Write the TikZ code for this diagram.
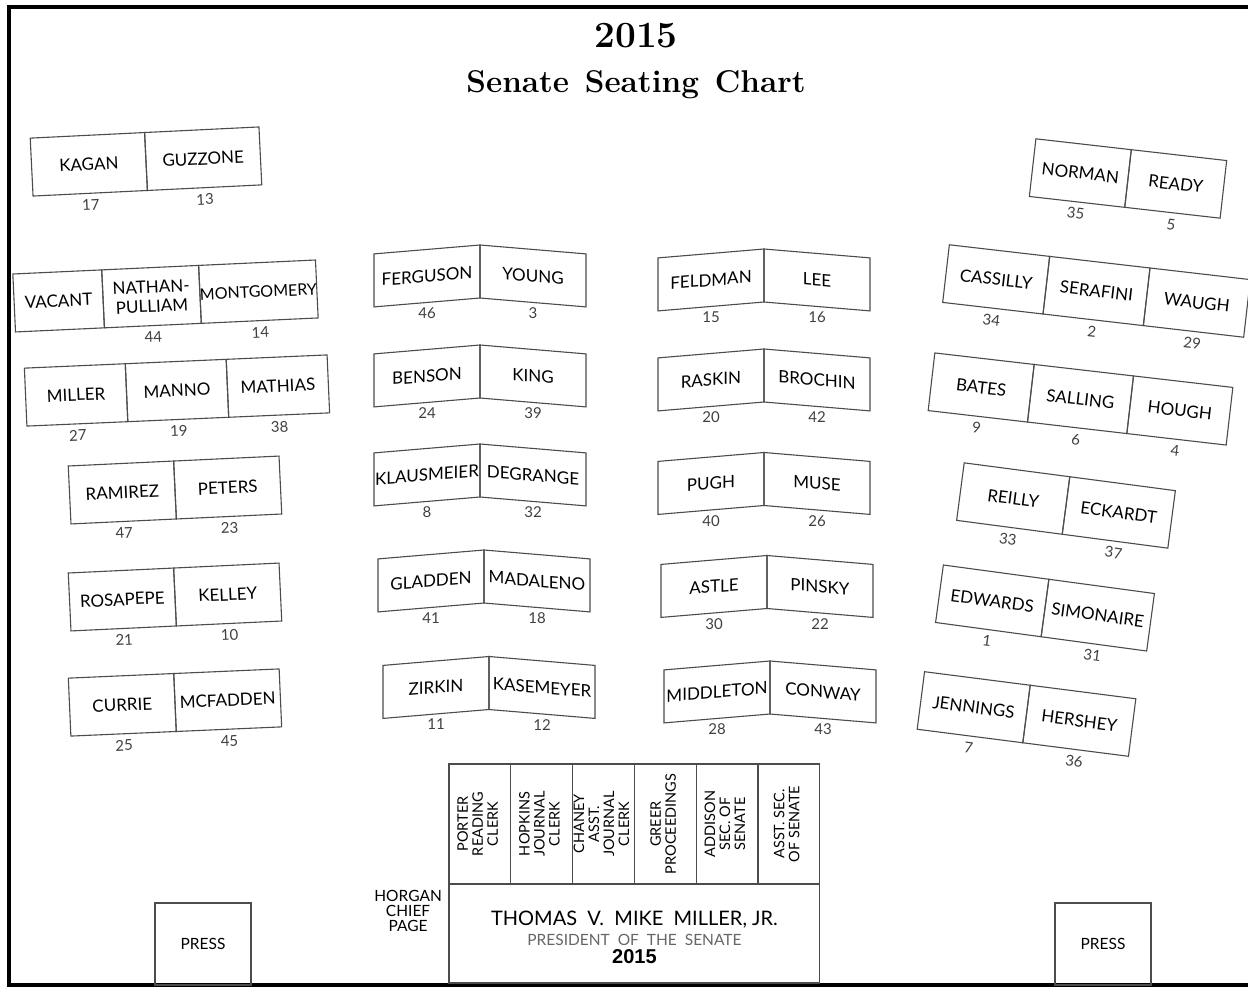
\documentclass[tikz,border=0pt]{standalone}
\usepackage{fontspec}
\usepackage{graphicx}
\setsansfont{Lato}
\newfontfamily\arialfont{Liberation Sans}
\usetikzlibrary{positioning}

% stacked clerk titles, read from bottom to top
\newcommand{\clerklines}[1]{\rotatebox{90}{\begin{tabular}{@{}c@{}}#1\end{tabular}}}

\begin{document}
\begin{tikzpicture}[x=1pt, y=-1pt,
    seat/.style={draw=black!70, line width=1.1pt, outer sep=0pt, inner sep=0pt,
      minimum height=58pt, align=center, text=black,
      font=\sffamily\fontsize{17}{19.5}\selectfont},
    panel/.style={seat, minimum width=106pt, minimum height=53pt},
    seatnum/.style={inner sep=1pt, text=black!75, font=\sffamily\fontsize{15}{15}\selectfont},
    clerk/.style={draw=black!70, line width=1.1pt, outer sep=0pt, inner sep=0pt,
      minimum width=61.8pt, minimum height=120pt, text=black,
      font=\sffamily\fontsize{14.5}{15}\selectfont},
    press/.style={draw=black!70, line width=1.1pt, outer sep=0pt,
      minimum width=96pt, minimum height=82pt, text=black,
      font=\sffamily\fontsize{15.5}{15}\selectfont}]

  \path[fill=white] (0,0) rectangle (1248,988);
  \useasboundingbox (0,0) rectangle (1248,988);
  \draw[line width=3.5pt] (1248,7) -- (9,7) -- (9,985) -- (1248,985);

  \node[font=\bfseries\fontsize{37}{37}\selectfont] (year) at (636,36) {2015};
  \node[font=\bfseries\fontsize{31.5}{31.5}\selectfont] (title) at (636,84.5)
    {Senate\hspace{0.5em}Seating\hspace{0.5em}Chart};

  % left wing
  \begin{scope}[shift={(146,161.5)}, rotate=2.8, transform shape]
    \node[seat, minimum width=114.5pt, anchor=east] (kagan) at (0,0) {KAGAN};
    \node[seat, minimum width=114.5pt, right=0pt of kagan] (guzzone) {GUZZONE};
    \node[seatnum, below=5pt of kagan] (n17) {17};
    \node[seatnum, below=5pt of guzzone] (n13) {13};
  \end{scope}
  \begin{scope}[shift={(165,296)}, rotate=2.65, transform shape]
    \node[seat, minimum width=97pt] (nathan) at (-13.5,0) {NATHAN-\\PULLIAM};
    \node[seat, minimum width=89pt, left=0pt of nathan] (vacant) {VACANT};
    \node[seat, minimum width=116pt, right=0pt of nathan,
      font=\sffamily\fontsize{16}{17}\selectfont] (montgomery) {MONTGOMERY};
    \node[seatnum, below=5pt of nathan] (n44) {44};
    \node[seatnum, below=5pt of montgomery] (n14) {14};
  \end{scope}
  \begin{scope}[shift={(177,390.5)}, rotate=2.5, transform shape]
    \node[seat, minimum width=101pt] (manno) at (0,0) {MANNO};
    \node[seat, minimum width=101pt, left=0pt of manno] (miller) {MILLER};
    \node[seat, minimum width=101pt, right=0pt of manno] (mathias) {MATHIAS};
    \node[seatnum, below=5pt of miller] (n27) {27};
    \node[seatnum, below=5pt of manno] (n19) {19};
    \node[seatnum, below=5pt of mathias] (n38) {38};
  \end{scope}
  \begin{scope}[shift={(175,490)}, rotate=2.7, transform shape]
    \node[seat, minimum width=105.5pt, anchor=east] (ramirez) at (0,0) {RAMIREZ};
    \node[seat, minimum width=105.5pt, right=0pt of ramirez] (peters) {PETERS};
    \node[seatnum, below=5pt of ramirez] (n47) {47};
    \node[seatnum, below=5pt of peters] (n23) {23};
  \end{scope}
  \begin{scope}[shift={(175,597)}, rotate=2.7, transform shape]
    \node[seat, minimum width=105.5pt, anchor=east] (rosapepe) at (0,0) {ROSAPEPE};
    \node[seat, minimum width=105.5pt, right=0pt of rosapepe] (kelley) {KELLEY};
    \node[seatnum, below=5pt of rosapepe] (n21) {21};
    \node[seatnum, below=5pt of kelley] (n10) {10};
  \end{scope}
  \begin{scope}[shift={(175,702.5)}, rotate=2.5, transform shape]
    \node[seat, minimum width=105.5pt, anchor=east] (currie) at (0,0) {CURRIE};
    \node[seat, minimum width=105.5pt, right=0pt of currie] (mcfadden) {MCFADDEN};
    \node[seatnum, below=5pt of currie] (n25) {25};
    \node[seatnum, below=5pt of mcfadden] (n45) {45};
  \end{scope}

  % middle rows, two bent panels per desk
  \coordinate (fy) at (480,271.5);
  \node[panel, yslant=0.084, anchor=east] (ferguson) at (fy) {FERGUSON};
  \node[panel, yslant=-0.084, anchor=west] (young) at (fy) {YOUNG};
  \node[seatnum, below=4pt of ferguson] (n46) {46};
  \node[seatnum, below=4pt of young] (n3) {3};

  \coordinate (bk) at (480,371.5);
  \node[panel, yslant=0.084, anchor=east] (benson) at (bk) {BENSON};
  \node[panel, yslant=-0.084, anchor=west] (king) at (bk) {KING};
  \node[seatnum, below=4pt of benson] (n24) {24};
  \node[seatnum, below=4pt of king] (n39) {39};

  \coordinate (kd) at (480,470.5);
  \node[panel, yslant=0.084, anchor=east] (klausmeier) at (kd) {KLAUSMEIER};
  \node[panel, yslant=-0.084, anchor=west] (degrange) at (kd) {DEGRANGE};
  \node[seatnum, below=4pt of klausmeier] (n8) {8};
  \node[seatnum, below=4pt of degrange] (n32) {32};

  \coordinate (gm) at (484,576.5);
  \node[panel, yslant=0.084, anchor=east] (gladden) at (gm) {GLADDEN};
  \node[panel, yslant=-0.084, anchor=west] (madaleno) at (gm) {MADALENO};
  \node[seatnum, below=4pt of gladden] (n41) {41};
  \node[seatnum, below=4pt of madaleno] (n18) {18};

  \coordinate (zk) at (489,683);
  \node[panel, yslant=0.084, anchor=east] (zirkin) at (zk) {ZIRKIN};
  \node[panel, yslant=-0.084, anchor=west] (kasemeyer) at (zk) {KASEMEYER};
  \node[seatnum, below=4pt of zirkin] (n11) {11};
  \node[seatnum, below=4pt of kasemeyer] (n12) {12};

  \coordinate (fl) at (764,275.5);
  \node[panel, yslant=0.084, anchor=east] (feldman) at (fl) {FELDMAN};
  \node[panel, yslant=-0.084, anchor=west] (lee) at (fl) {LEE};
  \node[seatnum, below=4pt of feldman] (n15) {15};
  \node[seatnum, below=4pt of lee] (n16) {16};

  \coordinate (rb) at (764,375.5);
  \node[panel, yslant=0.084, anchor=east] (raskin) at (rb) {RASKIN};
  \node[panel, yslant=-0.084, anchor=west] (brochin) at (rb) {BROCHIN};
  \node[seatnum, below=4pt of raskin] (n20) {20};
  \node[seatnum, below=4pt of brochin] (n42) {42};

  \coordinate (pm) at (764,479);
  \node[panel, yslant=0.084, anchor=east] (pugh) at (pm) {PUGH};
  \node[panel, yslant=-0.084, anchor=west] (muse) at (pm) {MUSE};
  \node[seatnum, below=4pt of pugh] (n40) {40};
  \node[seatnum, below=4pt of muse] (n26) {26};

  \coordinate (ap) at (767,582);
  \node[panel, yslant=0.084, anchor=east] (astle) at (ap) {ASTLE};
  \node[panel, yslant=-0.084, anchor=west] (pinsky) at (ap) {PINSKY};
  \node[seatnum, below=4pt of astle] (n30) {30};
  \node[seatnum, below=4pt of pinsky] (n22) {22};

  \coordinate (mc) at (770,687.5);
  \node[panel, yslant=0.084, anchor=east] (middleton) at (mc) {MIDDLETON};
  \node[panel, yslant=-0.084, anchor=west] (conway) at (mc) {CONWAY};
  \node[seatnum, below=4pt of middleton] (n28) {28};
  \node[seatnum, below=4pt of conway] (n43) {43};

  % right wing
  \begin{scope}[shift={(1128,178.5)}, rotate=-6.5, transform shape]
    \node[seat, minimum width=96pt, anchor=east] (norman) at (0,0) {NORMAN};
    \node[seat, minimum width=96pt, right=0pt of norman] (ready) {READY};
    \node[seatnum, below=5pt of norman] (n35) {35};
    \node[seatnum, below=5pt of ready] (n5) {5};
  \end{scope}
  \begin{scope}[shift={(1096.5,291)}, rotate=-6.6, transform shape]
    \node[seat, minimum width=101pt] (serafini) at (0,0) {SERAFINI};
    \node[seat, minimum width=101pt, left=0pt of serafini] (cassilly) {CASSILLY};
    \node[seat, minimum width=101pt, right=0pt of serafini] (waugh) {WAUGH};
    \node[seatnum, below=5pt of cassilly] (n34) {34};
    \node[seatnum, below=5pt of serafini] (n2) {2};
    \node[seatnum, below=5pt of waugh] (n29) {29};
  \end{scope}
  \begin{scope}[shift={(1080.5,399)}, rotate=-6.6, transform shape]
    \node[seat, minimum width=100pt] (salling) at (0,0) {SALLING};
    \node[seat, minimum width=100pt, left=0pt of salling] (bates) {BATES};
    \node[seat, minimum width=100pt, right=0pt of salling] (hough) {HOUGH};
    \node[seatnum, below=5pt of bates] (n9) {9};
    \node[seatnum, below=5pt of salling] (n6) {6};
    \node[seatnum, below=5pt of hough] (n4) {4};
  \end{scope}
  \begin{scope}[shift={(1066,505.5)}, rotate=-7.5, transform shape]
    \node[seat, minimum width=106.5pt, anchor=east] (reilly) at (0,0) {REILLY};
    \node[seat, minimum width=106.5pt, right=0pt of reilly] (eckardt) {ECKARDT};
    \node[seatnum, below=5pt of reilly] (n33) {33};
    \node[seatnum, below=5pt of eckardt] (n37) {37};
  \end{scope}
  \begin{scope}[shift={(1045,608)}, rotate=-7.7, transform shape]
    \node[seat, minimum width=106.5pt, anchor=east] (edwards) at (0,0) {EDWARDS};
    \node[seat, minimum width=106.5pt, right=0pt of edwards] (simonaire) {SIMONAIRE};
    \node[seatnum, below=5pt of edwards] (n1) {1};
    \node[seatnum, below=5pt of simonaire] (n31) {31};
  \end{scope}
  \begin{scope}[shift={(1026.5,714)}, rotate=-7.3, transform shape]
    \node[seat, minimum width=106.5pt, anchor=east] (jennings) at (0,0) {JENNINGS};
    \node[seat, minimum width=106.5pt, right=0pt of jennings] (hershey) {HERSHEY};
    \node[seatnum, below=5pt of jennings] (n7) {7};
    \node[seatnum, below=5pt of hershey] (n36) {36};
  \end{scope}

  % rostrum
  \node[clerk, anchor=north west] (porter) at (449,764) {\clerklines{PORTER\\READING\\CLERK}};
  \node[clerk, right=0pt of porter] (hopkins) {\clerklines{HOPKINS\\JOURNAL\\CLERK}};
  \node[clerk, right=0pt of hopkins] (chaney) {\clerklines{CHANEY\\ASST.\\JOURNAL\\CLERK}};
  \node[clerk, right=0pt of chaney] (greer) {\clerklines{GREER\\PROCEEDINGS}};
  \node[clerk, right=0pt of greer] (addison) {\clerklines{ADDISON\\SEC. OF\\SENATE}};
  \node[clerk, right=0pt of addison] (asstsec) {\clerklines{ASST. SEC.\\OF SENATE}};
  \node[draw=black!70, line width=1.1pt, outer sep=0pt, minimum width=370.8pt,
    minimum height=99pt, anchor=north west] (president) at (porter.south west) {};
  \node[anchor=base, text=black, font=\sffamily\fontsize{20}{20}\selectfont] (prname)
    at ([yshift=8.5pt]president.center) {THOMAS\ \ V.\ \ MIKE\ \ MILLER,\ JR.};
  \node[anchor=base, text=black!60, font=\sffamily\fontsize{15.5}{16}\selectfont] (prtitle)
    at ([yshift=-11.5pt]president.center) {PRESIDENT\ \ OF\ \ THE\ \ SENATE};
  \node[anchor=base, text=black, font=\arialfont\bfseries\fontsize{20}{20}\selectfont] (pryear)
    at ([yshift=-29.5pt]president.center) {2015};
  \node[align=center, inner sep=2pt, text=black, font=\sffamily\fontsize{15.5}{15}\selectfont,
    below left=4pt and 5pt of porter.south west] (horgan) {HORGAN\\CHIEF\\PAGE};

  \node[press, anchor=south west] (pressleft) at (155,985) {PRESS};
  \node[press, anchor=south west] (pressright) at (1055,985) {PRESS};
\end{tikzpicture}
\end{document}
